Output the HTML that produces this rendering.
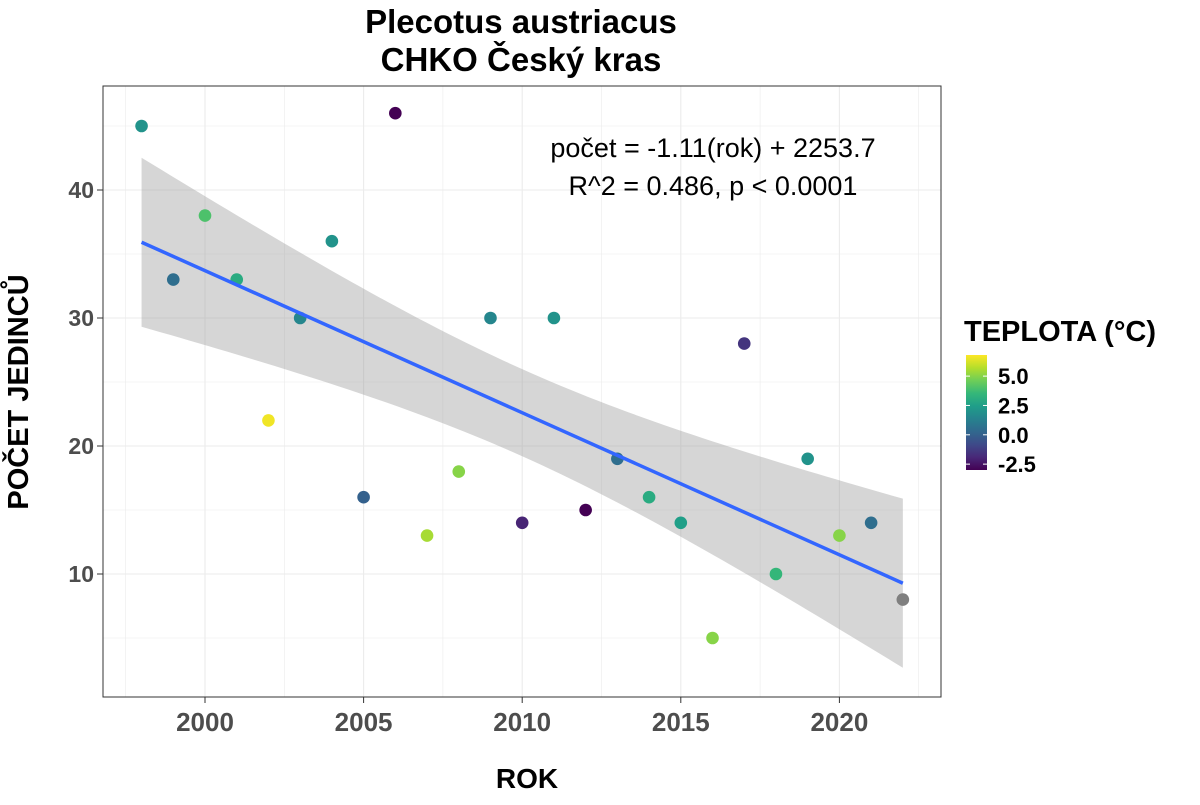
<!DOCTYPE html>
<html><head><meta charset="utf-8"><style>
body{margin:0;background:#fff;font-family:"Liberation Sans",Arial,sans-serif}
</style></head><body>
<svg id="chart" width="1200" height="800" xmlns="http://www.w3.org/2000/svg" font-family="Liberation Sans, Arial, sans-serif">
<rect width="1200" height="800" fill="#fff"/>
<g id="grid"></g>
<g id="band"></g>
<g id="pts"></g>
<rect x="103" y="86" width="838" height="611" fill="none" stroke="#333" stroke-width="1"/>
<g id="axes"></g>
<text x="521" y="33" text-anchor="middle" font-size="33" font-weight="bold">Plecotus austriacus</text>
<text x="521" y="71" text-anchor="middle" font-size="33" font-weight="bold">CHKO Český kras</text>
<text x="713" y="157" text-anchor="middle" font-size="27">počet = -1.11(rok) + 2253.7</text>
<text x="713" y="195" text-anchor="middle" font-size="27">R^2 = 0.486, p &lt; 0.0001</text>
<text x="527" y="788" text-anchor="middle" font-size="28" font-weight="bold">ROK</text>
<text transform="translate(28,392) rotate(-90)" text-anchor="middle" font-size="29" font-weight="bold">POČET JEDINCŮ</text>
<text x="964" y="341" font-size="29" font-weight="bold">TEPLOTA (°C)</text>
<defs><linearGradient id="vg" x1="0" y1="1" x2="0" y2="0"></linearGradient></defs>
<g id="legend"></g>
</svg>
<script>
const years=[1998,1999,2000,2001,2002,2003,2004,2005,2006,2007,2008,2009,2010,2011,2012,2013,2014,2015,2016,2017,2018,2019,2020,2021,2022];
const counts=[45,33,38,33,22,30,36,16,46,13,18,30,14,30,15,19,16,14,5,28,10,19,13,14,8];
const temps=[2,0.5,4,3,6.6,1.5,2,0,-3,5.5,5,1.5,-2,2,-3,0.5,3,2.5,5,-1.5,3.5,2,5,0.5,null];
const xTicks=[2000,2005,2010,2015,2020];
const yTicks=[10,20,30,40];
const tLim=[-3,6.8];
const legendTicks=[5,2.5,0,-2.5];
const legendLabels=["5.0","2.5","0.0","-2.5"];
const NS="http://www.w3.org/2000/svg";
const X=v=>205+(v-2000)*31.72, Y=v=>574-(v-10)*12.8;
function mk(tag,at,parent){const e=document.createElementNS(NS,tag);for(const k in at)e.setAttribute(k,at[k]);parent.appendChild(e);return e;}
const vir=["#440154","#482878","#3e4a89","#31688e","#26828e","#1f9e89","#35b779","#6ece58","#b5de2b","#fde725"];
function hex(c){return [1,3,5].map(i=>parseInt(c.substr(i,2),16));}
function col(t){if(t===null)return"#7f7f7f";let f=(t-tLim[0])/(tLim[1]-tLim[0]);f=Math.max(0,Math.min(1,f))*(vir.length-1);const i=Math.min(Math.floor(f),vir.length-2),r=f-i;const a=hex(vir[i]),b=hex(vir[i+1]);return"rgb("+a.map((v,k)=>Math.round(v+(b[k]-v)*r)).join(",")+")";}
const grid=document.getElementById('grid');
for(let v=1997.5;v<=2022.5;v+=2.5){const l=mk('line',{x1:X(v),x2:X(v),y1:86,y2:697,stroke:'#ebebeb','stroke-width':(v%5==0)?1.1:0.6},grid);}
for(let v=5;v<=45;v+=5){const l=mk('line',{x1:103,x2:941,y1:Y(v),y2:Y(v),stroke:'#ebebeb','stroke-width':(v%10==0)?1.1:0.6},grid);}
const n=years.length,mx=years.reduce((a,b)=>a+b)/n,my=counts.reduce((a,b)=>a+b)/n;
let sxx=0,sxy=0;years.forEach((x,i)=>{sxx+=(x-mx)**2;sxy+=(x-mx)*(counts[i]-my);});
const b1=sxy/sxx,b0=my-b1*mx;let sse=0;years.forEach((x,i)=>{sse+=(counts[i]-b0-b1*x)**2;});
const s=Math.sqrt(sse/(n-2)),tq=2.069;
const x0=years[0],x1=years[n-1];let up=[],lo=[];
for(let k=0;k<=80;k++){const x=x0+(x1-x0)*k/80,f=b0+b1*x,se=s*Math.sqrt(1/n+(x-mx)**2/sxx);up.push(X(x)+","+Y(f+tq*se));lo.push(X(x)+","+Y(f-tq*se));}
const band=document.getElementById('band');
const bp=mk('polygon',{points:up.concat(lo.reverse()).join(" "),fill:'#999','fill-opacity':0.4},band);

const pts=document.getElementById('pts');
years.forEach((yr,i)=>{const c=mk('circle',{cx:X(yr),cy:Y(counts[i]),r:6.3,fill:col(temps[i])},pts);});
const rl=mk('line',{x1:X(x0),y1:Y(b0+b1*x0),x2:X(x1),y2:Y(b0+b1*x1),stroke:'#3366ff','stroke-width':3.5},pts);

const axes=document.getElementById('axes');
xTicks.forEach(v=>{mk('line',{x1:X(v),x2:X(v),y1:697,y2:703,stroke:'#333'},axes);const t=mk('text',{x:X(v),y:731,'text-anchor':'middle','font-size':26,'font-weight':'bold',fill:'#4d4d4d'},axes);t.textContent=v;});
yTicks.forEach(v=>{mk('line',{x1:97,x2:103,y1:Y(v),y2:Y(v),stroke:'#333'},axes);const t=mk('text',{x:94,y:Y(v)+8,'text-anchor':'end','font-size':23,'font-weight':'bold',fill:'#4d4d4d'},axes);t.textContent=v;});
const g=document.getElementById('vg');vir.forEach((c,i)=>mk('stop',{offset:(i/(vir.length-1)),'stop-color':c},g));
const lg=document.getElementById('legend');const LY=v=>470-(v-tLim[0])*(115/(tLim[1]-tLim[0]));
const cb=mk('rect',{x:966,y:355,width:21,height:115,fill:'url(#vg)'},lg);
legendTicks.forEach((v,i)=>{mk('line',{x1:966,x2:970,y1:LY(v),y2:LY(v),stroke:'#fff'},lg);mk('line',{x1:983,x2:987,y1:LY(v),y2:LY(v),stroke:'#fff'},lg);const t=mk('text',{x:998,y:LY(v)+8,'font-size':22,'font-weight':'bold',fill:'#000'},lg);t.textContent=legendLabels[i];});
</script>
</body></html>
